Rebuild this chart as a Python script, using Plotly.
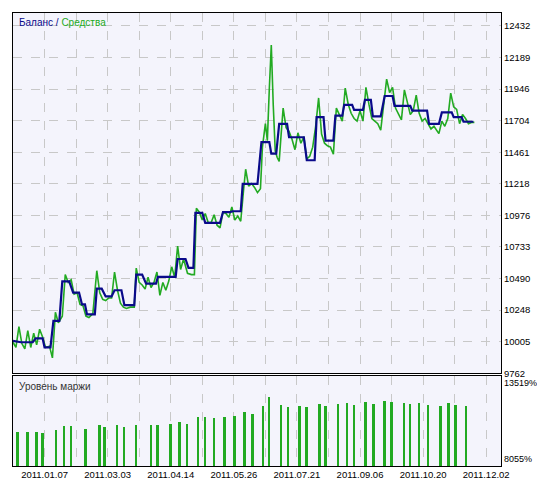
import plotly.graph_objects as go
from plotly.subplots import make_subplots

# balance (step line), x in chart units
bal_x = [5, 11, 13, 25, 28, 35, 37, 43, 46, 52, 55, 62, 66, 72, 75, 78, 80, 88, 90, 95, 99, 105, 108, 115,
         118, 128, 130, 136, 140, 150, 152, 170, 172, 180, 183, 188, 190, 197, 200, 215, 218, 225, 228, 236,
         238, 253, 257, 265, 267, 272, 275, 283, 285, 300, 303, 311, 313, 320, 322, 330, 332, 339, 341, 349,
         351, 360, 362, 368, 370, 378, 382, 390, 392, 408, 410, 425, 427, 437, 440, 450, 452, 460, 462, 472]
bal_y = [10010, 10005, 10000, 10000, 10030, 10030, 9960, 9960, 10165, 10165, 10468, 10468, 10382, 10382,
         10291, 10291, 10215, 10215, 10412, 10412, 10352, 10352, 10400, 10400, 10285, 10285, 10520, 10520,
         10450, 10450, 10503, 10503, 10640, 10640, 10572, 10572, 10994, 10994, 10918, 10918, 11001, 11001,
         11007, 11007, 11218, 11218, 11538, 11538, 11450, 11450, 11678, 11678, 11576, 11576, 11399, 11399,
         11730, 11730, 11550, 11550, 11742, 11742, 11825, 11825, 11787, 11787, 11863, 11863, 11737, 11737,
         11893, 11893, 11817, 11817, 11780, 11780, 11678, 11678, 11767, 11767, 11730, 11730, 11695, 11695]

eq_x = [5, 8, 11, 14, 17, 20, 23, 26, 29, 32, 35, 38, 42, 45, 48, 51, 55, 58, 61, 64, 67, 70, 73, 76, 79, 82,
        86, 90, 93, 96, 99, 102, 105, 108, 111, 114, 117, 120, 124, 128, 130, 133, 136, 139, 142, 145, 148,
        151, 154, 157, 160, 163, 166, 169, 172, 175, 178, 182, 186, 189, 191, 194, 197, 200, 203, 206, 209,
        212, 215, 218, 221, 224, 227, 230, 233, 236, 239, 241, 244, 247, 250, 253, 256, 258, 261, 263, 265,
        267, 269, 271, 273, 275, 277, 279, 282, 285, 288, 291, 294, 297, 300, 303, 306, 309, 312, 315, 318,
        321, 324, 327, 330, 333, 336, 339, 342, 345, 348, 351, 354, 357, 360, 363, 366, 369, 372, 375, 378,
        381, 384, 387, 390, 393, 396, 399, 402, 405, 408, 411, 414, 417, 420, 423, 426, 429, 432, 435, 437,
        440, 443, 446, 449, 452, 455, 458, 461, 464, 467, 470, 473]
eq_y = [10000, 9960, 10120, 9990, 9950, 10090, 9960, 10070, 9980, 10100, 10040, 9960, 9970, 9880, 10230,
        10150, 10200, 10520, 10460, 10480, 10370, 10380, 10290, 10280, 10200, 10190, 10220, 10550, 10380,
        10330, 10320, 10340, 10340, 10540, 10400, 10300, 10270, 10260, 10270, 10270, 10570, 10460, 10440,
        10410, 10500, 10420, 10460, 10540, 10360, 10460, 10400, 10470, 10580, 10500, 10740, 10560, 10640,
        10530, 10520, 10520, 11030, 11000, 10940, 10990, 10920, 10920, 10980, 10900, 10880, 11000, 10990,
        10960, 11040, 10940, 10970, 10930, 11180, 11330, 11200, 11220, 11190, 11150, 11180, 11500, 11680,
        11550, 11950, 12285, 11820, 11470, 11420, 11390, 11600, 11800, 11650, 11620, 11560, 11480, 11610,
        11530, 11580, 11410, 11430, 11500, 11660, 11878, 11600, 11530, 11510, 11500, 11445, 11800, 11750,
        11700, 11954, 11830, 11760, 11720, 11700, 11780, 11700, 11960, 11830, 11720, 11700, 11680, 11630,
        11820, 12023, 11920, 11960, 11800, 11760, 11710, 11940, 11850, 11750, 11780, 11900, 11760, 11700,
        11720, 11680, 11640, 11660, 11620, 11604, 11700, 11660, 11720, 11915, 11810, 11790, 11680, 11750,
        11720, 11680, 11690, 11690]

margin_x = [10, 20, 29, 35, 49, 57, 64, 79, 93, 98, 111, 118, 130, 145, 152, 165, 174, 182, 193, 200, 209,
            220, 230, 240, 248, 259, 265, 277, 284, 296, 303, 316, 322, 335, 344, 351, 363, 371, 382, 389,
            402, 408, 417, 426, 439, 447, 454, 465]
margin_y = [10114, 10114, 10114, 10053, 10237, 10481, 10481, 10298, 10542, 10420, 10542, 10420, 10542,
            10542, 10542, 10603, 10726, 10603, 11032, 11032, 10971, 11032, 11093, 11338, 11215, 11704,
            12255, 11765, 11643, 11704, 11643, 11827, 11704, 11827, 11888, 11765, 11949, 11827, 12010,
            11949, 11888, 11827, 11888, 11765, 11704, 11888, 11765, 11704]
margin_min, margin_max = 8055, 13519

y_ticks = [9762, 10005, 10248, 10490, 10733, 10976, 11218, 11461, 11704, 11946, 12189, 12432]
x_grid = [37 + 32 * k for k in range(15)]
date_labels = ["2011.01.07", "2011.03.03", "2011.04.14", "2011.05.26",
               "2011.07.21", "2011.09.06", "2011.10.20", "2011.12.02"]
x_text = []
for k in range(15):
    x_text.append(date_labels[k // 2] if k % 2 == 0 else "")

BG = "#F4F4FC"
GRID = "#C8C8C8"
FONT = "Liberation Sans"

fig = make_subplots(rows=2, cols=1, row_heights=[0.8, 0.2], vertical_spacing=0.006, shared_xaxes=False)

fig.add_trace(go.Scatter(x=eq_x, y=eq_y, mode="lines", line=dict(color="#22AA22", width=1.6),
                         hoverinfo="skip"), row=1, col=1)
fig.add_trace(go.Scatter(x=bal_x, y=bal_y, mode="lines", line=dict(color="#0A0A8A", width=2.2),
                         hoverinfo="skip"), row=1, col=1)
fig.add_trace(go.Bar(x=margin_x, y=[v - margin_min for v in margin_y], width=2,
                     marker=dict(color="#22AA22", line_width=0), hoverinfo="skip"), row=2, col=1)

ax_common = dict(range=[5, 500], tickvals=x_grid, showgrid=True, gridcolor=GRID, griddash="dash",
                 gridwidth=1, showline=True, linecolor="black", linewidth=1, mirror=True, zeroline=False,
                 ticks="")
fig.update_xaxes(**ax_common, showticklabels=False, row=1, col=1)
fig.update_xaxes(**ax_common, ticktext=x_text, showticklabels=True, tickfont=dict(size=9.5),
                 row=2, col=1)

fig.update_yaxes(range=[9762, 12531], tickvals=y_ticks, ticktext=[str(v) for v in y_ticks],
                 side="right", showgrid=True, gridcolor=GRID,
                 griddash="dash", showline=True, linecolor="black", linewidth=1, mirror=True,
                 zeroline=False, ticks="", tickfont=dict(size=9.5), row=1, col=1)
fig.update_yaxes(range=[0, margin_max - margin_min], showticklabels=False, showgrid=False,
                 showline=True, linecolor="black", linewidth=1, mirror=True, zeroline=False,
                 ticks="", row=2, col=1)

fig.add_annotation(xref="x2 domain", yref="y2 domain", x=1.0, y=1.0, xanchor="left", yanchor="top",
                   xshift=1, showarrow=False, text=f"{margin_max}%", font=dict(size=9))
fig.add_annotation(xref="x2 domain", yref="y2 domain", x=1.0, y=0.0, xanchor="left", yanchor="bottom",
                   xshift=1, showarrow=False, text=f"{margin_min}%", font=dict(size=9))
fig.add_annotation(xref="x domain", yref="y domain", x=0.008, y=0.995, xanchor="left", yanchor="top",
                   showarrow=False, text="<span style='color:#0A0A8A'>Баланс</span> / "
                   "<span style='color:#22AA22'>Средства</span>", font=dict(size=10, color="#0A0A8A"))
fig.add_annotation(xref="x2 domain", yref="y2 domain", x=0.008, y=0.97, xanchor="left", yanchor="top",
                   showarrow=False, text="Уровень маржи", font=dict(size=10, color="#333333"))

fig.update_layout(width=545, height=480, margin=dict(l=5, r=52, t=5, b=22), showlegend=False,
                  plot_bgcolor=BG, paper_bgcolor="white", bargap=0,
                  font=dict(family=FONT, size=10, color="black"))

fig.write_html("out.html")
